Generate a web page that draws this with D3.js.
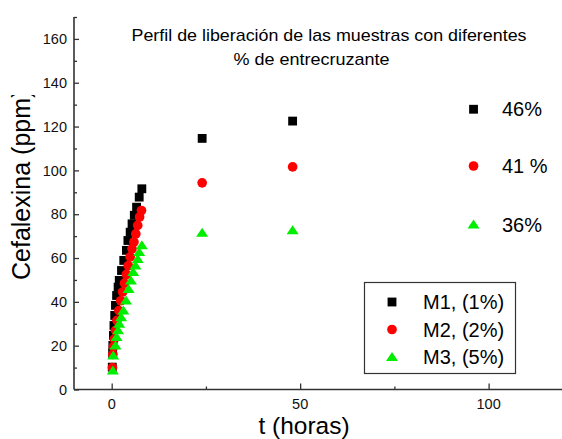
<!DOCTYPE html>
<html>
<head>
<meta charset="utf-8">
<script src="https://cdn.jsdelivr.net/npm/d3@7"></script>
<style>
  html, body { margin: 0; padding: 0; background: #fff; }
  svg { display: block; font-family: "Liberation Sans", Arial, sans-serif; }
</style>
</head>
<body>
<svg id="chart" width="562" height="439"></svg>
<script>
// ---- data ----
const m1Time  = [0.15, 0.25, 0.3, 0.45, 0.6, 0.8, 1.0, 1.3, 1.7, 2.0, 2.6, 3.2, 3.9, 4.3, 4.9, 5.4, 6.0, 6.6, 7.3, 8.0, 24, 48];
const m1Value = [10.2, 16.5, 20.1, 24.7, 29.2, 33.8, 38.4, 42.9, 46.7, 49.8, 54.3, 58.9, 63.5, 68.0, 71.8, 75.6, 79.5, 83.2, 87.8, 91.6, 114.6, 122.5];

const m2Time  = [0.2, 0.3, 0.45, 0.7, 1.0, 1.4, 1.9, 2.4, 2.9, 3.4, 3.9, 4.4, 4.9, 5.4, 5.9, 6.4, 6.9, 7.4, 7.9, 24, 48];
const m2Value = [10.0, 16.0, 19.5, 23.0, 27.0, 31.5, 36.0, 40.5, 44.5, 48.5, 52.5, 56.5, 60.5, 64.2, 67.3, 71.0, 74.9, 78.7, 81.7, 94.3, 101.6];

const m3Time  = [0.3, 0.4, 1.0, 1.3, 1.7, 2.0, 2.5, 3.1, 3.8, 4.5, 5.1, 5.7, 6.3, 6.9, 7.3, 8.0, 24, 48];
const m3Value = [8.7, 15.5, 20.1, 24.0, 27.0, 30.0, 33.0, 36.0, 40.6, 45.9, 49.8, 53.6, 56.6, 59.6, 62.7, 65.8, 71.5, 72.7];

const seriesNames = ["M1, (1%)", "M2, (2%)", "M3, (5%)"];
const seriesColors = ["#000000", "#ff0000", "#00ee00"];
const seriesShapes = ["square", "circle", "triangle"];

// side annotations (marker + crosslinking percentage)
const annotTime  = [96, 96, 96];
const annotValue = [127.9, 102.0, 75.3];
const annotLabel = ["46%", "41 %", "36%"];

const xMajorTicks = [0, 50, 100];
const xMinorTicks = [25, 75];
const yMajorTicks = [0, 20, 40, 60, 80, 100, 120, 140, 160];
const yMinorTicks = [10, 30, 50, 70, 90, 110, 130, 150, 170];

const titleLines = ["Perfil de liberación de las muestras con diferentes", "% de entrecruzante"];
const xLabel = "t (horas)";
const yLabel = "Cefalexina (ppm)";

// ---- drawing ----
const svg = d3.select("#chart");
const x = d3.scaleLinear().domain([-10, 120]).range([74, 564]);
const y = d3.scaleLinear().domain([0, 170]).range([389.5, 17]);
const axisColor = "#333";

function symbolPath(shape) {
  if (shape === "square") return d3.symbol().type(d3.symbolSquare).size(78)();
  if (shape === "circle") return d3.symbol().type(d3.symbolCircle).size(74)();
  // wide triangle
  return "M0,-5L6,4L-6,4Z";
}

// Axes (inward ticks)
const xAxisMajor = d3.axisTop(x).tickValues(xMajorTicks).tickSize(6).tickFormat("");
const xAxisMinor = d3.axisTop(x).tickValues(xMinorTicks).tickSize(3).tickFormat("");
const yAxisMajor = d3.axisRight(y).tickValues(yMajorTicks).tickSize(5).tickFormat("");
const yAxisMinor = d3.axisRight(y).tickValues(yMinorTicks).tickSize(3).tickFormat("");

const gx = svg.append("g").attr("transform", `translate(0,${y(0)})`);
gx.append("g").call(xAxisMajor);
gx.append("g").call(xAxisMinor);
gx.selectAll(".domain").remove();
gx.selectAll("line").attr("stroke", axisColor).attr("stroke-width", 1.3);
gx.append("line").attr("x1", x(-10)).attr("x2", 562).attr("y1", 0).attr("y2", 0)
  .attr("stroke", axisColor).attr("stroke-width", 1.6);
gx.selectAll("text.tl").data(xMajorTicks).enter().append("text")
  .attr("class", "tl")
  .attr("x", d => x(d)).attr("y", 19.5)
  .attr("text-anchor", "middle").attr("font-size", 14.5).attr("fill", "#111")
  .text(d => d);

const gy = svg.append("g").attr("transform", `translate(${x(-10)},0)`);
gy.append("g").call(yAxisMajor);
gy.append("g").call(yAxisMinor);
gy.selectAll(".domain").remove();
gy.selectAll("line").attr("stroke", axisColor).attr("stroke-width", 1.3);
gy.append("line").attr("x1", 0).attr("x2", 0).attr("y1", y(170)).attr("y2", y(0))
  .attr("stroke", axisColor).attr("stroke-width", 1.6);
gy.selectAll("text.tl").data(yMajorTicks).enter().append("text")
  .attr("class", "tl")
  .attr("x", -7).attr("y", d => y(d)).attr("dy", "0.36em")
  .attr("text-anchor", "end").attr("font-size", 14.5).attr("fill", "#111")
  .text(d => d);

// Axis titles
svg.append("text").attr("x", 304).attr("y", 434).attr("text-anchor", "middle")
  .attr("font-size", 24.5).attr("fill", "#000").text(xLabel);

svg.append("clipPath").attr("id", "yclip").append("rect")
  .attr("x", 0).attr("y", 95).attr("width", 60).attr("height", 300);
svg.append("g").attr("clip-path", "url(#yclip)")
  .append("text").attr("transform", "translate(30,280) rotate(-90)")
  .attr("text-anchor", "start").attr("font-size", 25).attr("fill", "#000").text(yLabel);

// Title
svg.append("text").attr("x", 131.5).attr("y", 41).attr("font-size", 17)
  .attr("textLength", 395).attr("lengthAdjust", "spacingAndGlyphs").text(titleLines[0]);
svg.append("text").attr("x", 233.5).attr("y", 65).attr("font-size", 17)
  .attr("textLength", 156).attr("lengthAdjust", "spacingAndGlyphs").text(titleLines[1]);

// Data series
const allSeries = [
  { t: m1Time, v: m1Value },
  { t: m2Time, v: m2Value },
  { t: m3Time, v: m3Value }
];
allSeries.forEach((s, i) => {
  const pts = s.t.map((t, k) => ({ t, v: s.v[k] }));
  svg.append("g").selectAll("path").data(pts).enter().append("path")
    .attr("d", symbolPath(seriesShapes[i]))
    .attr("transform", d => `translate(${x(d.t)},${y(d.v)})`)
    .attr("fill", seriesColors[i]);
});

// Side annotations
annotTime.forEach((t, i) => {
  svg.append("path").attr("d", symbolPath(seriesShapes[i]))
    .attr("transform", `translate(${x(t)},${y(annotValue[i])})`)
    .attr("fill", seriesColors[i]);
  svg.append("text").attr("x", 502).attr("y", y(annotValue[i]) + 7)
    .attr("font-size", 20).attr("fill", "#000").text(annotLabel[i]);
});

// Legend
const lg = svg.append("g");
lg.append("rect").attr("x", 364.5).attr("y", 282.5).attr("width", 151).attr("height", 91)
  .attr("fill", "none").attr("stroke", "#333").attr("stroke-width", 1.2);
const rowY = [302, 329.5, 357];
seriesNames.forEach((name, i) => {
  lg.append("path").attr("d", symbolPath(seriesShapes[i]))
    .attr("transform", `translate(392,${rowY[i]})`).attr("fill", seriesColors[i]);
  lg.append("text").attr("x", 423).attr("y", rowY[i] + 7)
    .attr("font-size", 20).attr("fill", "#000").text(name);
});
</script>
</body>
</html>
